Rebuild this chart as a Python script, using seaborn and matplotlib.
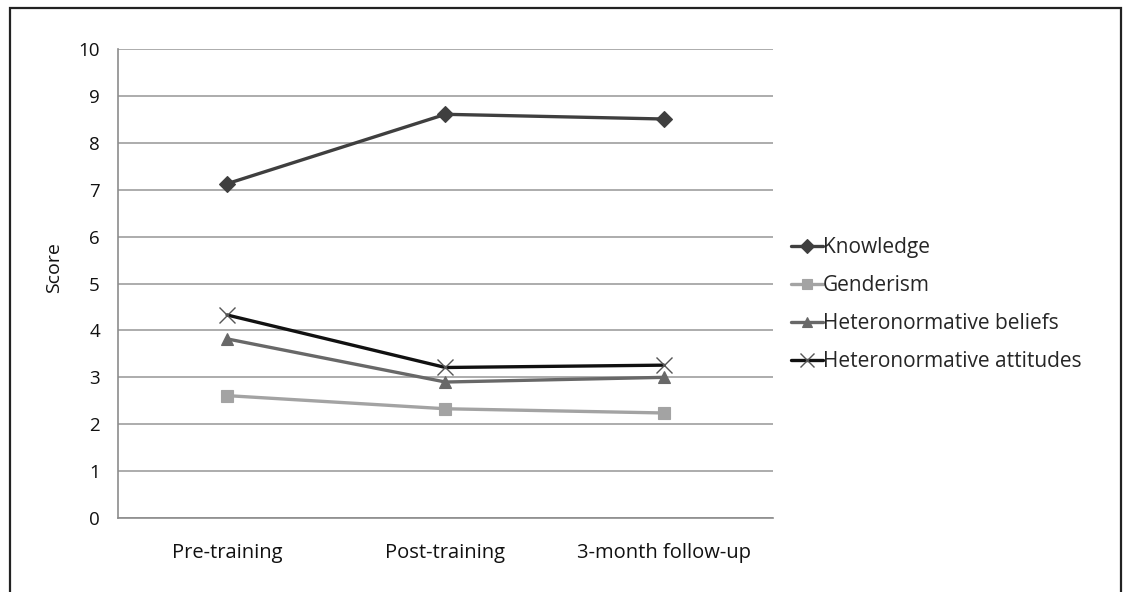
import pandas as pd
import matplotlib.pyplot as plt
import matplotlib.patches as mpatches
import seaborn as sns

# ---------------------------------------------------------------------
# DATA
# ---------------------------------------------------------------------
phases = ["Pre-training", "Post-training", "3-month follow-up"]
knowledge = [7.13, 8.61, 8.51]
genderism = [2.61, 2.33, 2.24]
beliefs = [3.82, 2.90, 3.00]
attitudes = [4.33, 3.21, 3.26]

series = ["Knowledge", "Genderism", "Heteronormative beliefs", "Heteronormative attitudes"]
values = [knowledge, genderism, beliefs, attitudes]

colors = {"Knowledge": "#3f3f3f", "Genderism": "#a3a3a3",
          "Heteronormative beliefs": "#686868", "Heteronormative attitudes": "#111111"}
markers = {"Knowledge": "D", "Genderism": "s",
           "Heteronormative beliefs": "^", "Heteronormative attitudes": "x"}

# ---------------------------------------------------------------------
# FIGURE
# ---------------------------------------------------------------------
sns.set_style("white")
plt.rcParams["font.family"] = ["Open Sans", "DejaVu Sans"]

fig = plt.figure(figsize=(11.3, 5.92), dpi=100)
ax = fig.add_axes([0.1044, 0.125, 0.5796, 0.792])

handles = []
for name, vals in zip(series, values):
    d = pd.DataFrame({"Phase": phases, "Score": vals})
    mk = markers[name]
    if mk == "x":
        kw = dict(markersize=11, markeredgecolor="#555555", markeredgewidth=1.0)
    else:
        kw = dict(markersize=8, markeredgecolor=colors[name], markeredgewidth=0.8)
    sns.lineplot(data=d, x="Phase", y="Score", color=colors[name], marker=mk,
                 linewidth=2.4, sort=False, ax=ax, **kw)
    lkw = dict(kw)
    lkw["markersize"] = kw["markersize"] - 1
    handles.append(plt.Line2D([], [], color=colors[name], linewidth=2.4, marker=mk, **lkw))

ax.set_xlim(-0.5, 2.5)
ax.set_ylim(0, 10)
ax.set_yticks(range(0, 11))
ax.set_xticks([0, 1, 2])
ax.set_xticklabels(phases)
ax.set_xticks([-0.5, 0.5, 1.5, 2.5], minor=True)
ax.tick_params(axis="x", which="major", length=0, pad=18, labelsize=14.5, labelcolor="#111111")
ax.tick_params(axis="x", which="minor", length=6, width=1, color="#8c8c8c", direction="out")
ax.tick_params(axis="y", length=6, width=1, color="#8c8c8c", direction="out", labelsize=13.5,
               labelcolor="#111111", pad=7)
ax.yaxis.grid(True, color="#9e9e9e", linewidth=1.2)
ax.set_axisbelow(True)
for side in ["top", "right"]:
    ax.spines[side].set_visible(False)
for side in ["left", "bottom"]:
    ax.spines[side].set_color("#8c8c8c")
    ax.spines[side].set_linewidth(1.2)
ax.set_xlabel("")
ax.set_ylabel("Score", fontsize=14, color="#111111", va="center")
ax.yaxis.set_label_coords(-0.098, 0.535)

fig.legend(handles, series, loc="upper left", bbox_to_anchor=(0.693, 0.614),
           frameon=False, fontsize=15, handlelength=1.5, handletextpad=0.0,
           labelspacing=0.82, borderaxespad=0)

# outer frame
fig.patches.append(mpatches.Rectangle((10 / 1130, -0.05), 1111 / 1130, 1.05 - 8 / 592,
                                      transform=fig.transFigure, fill=False,
                                      edgecolor="#222222", linewidth=1.6))

fig.savefig("out.png", dpi=100)
